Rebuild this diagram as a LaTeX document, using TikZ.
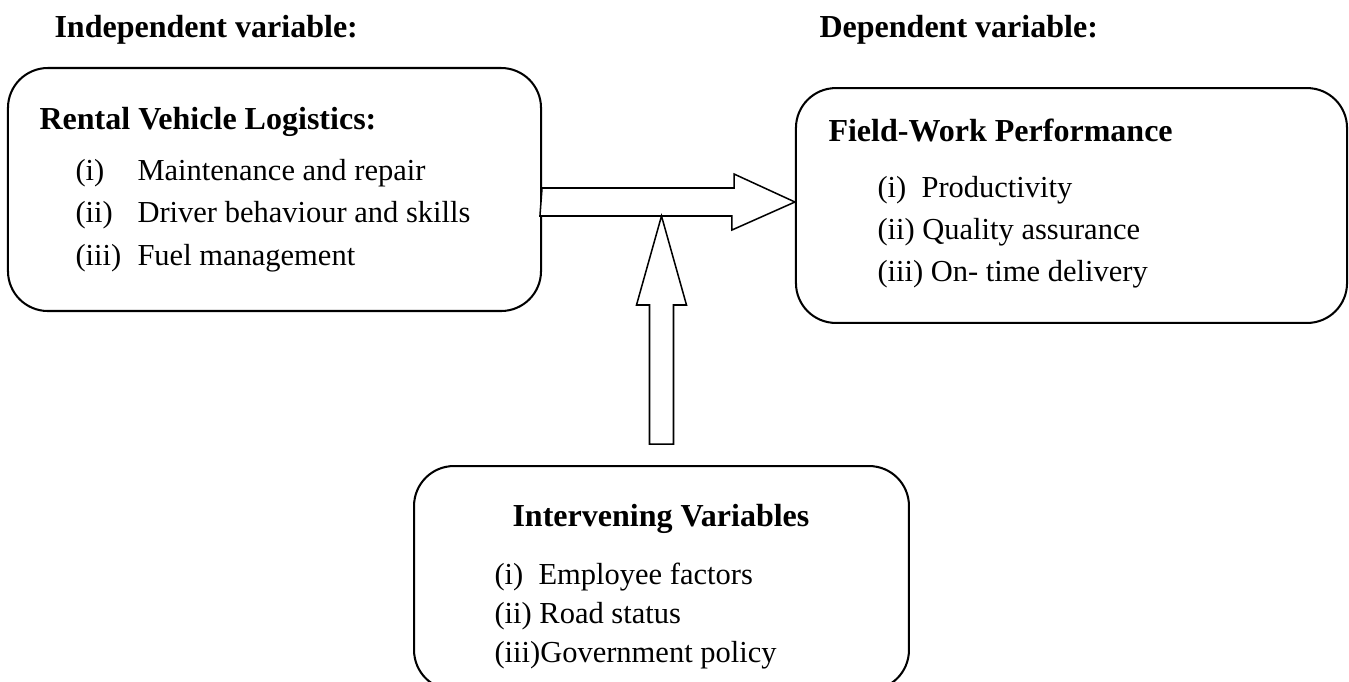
\documentclass[tikz,border=0pt]{standalone}
\usepackage{fontspec}
\setmainfont{Liberation Serif}
\usetikzlibrary{calc}
\tikzset{varbox/.style = {shape=rectangle, draw, rounded corners=15.7pt, line width=0.8pt, inner sep=0pt}}
\tikzset{item/.style = {anchor=base west, inner sep=0pt, font=\fontsize{12}{14}\selectfont}}
\tikzset{title/.style = {item, font=\fontsize{12.6}{14}\selectfont\bfseries}}
\tikzset{blockarrow/.style = {draw, fill=white, line width=0.6pt, line join=miter}}

\begin{document}
\begin{tikzpicture}[x=0.3934pt, y=-0.3934pt]
                    \useasboundingbox (0,0) rectangle (1349,681);

                    \node[title] (indep) at (54,37) {Independent variable:};
                    \node[title] (dep) at (819,37) {Dependent variable:};

                    \node[varbox, minimum width=209.7pt, minimum height=95.6pt] (rvl) at (274.5,189.5) {};
                    \node[varbox, minimum width=216.8pt, minimum height=92.4pt] (fwp) at (1071.5,205.5) {};
                    \node[varbox, minimum width=194.7pt, minimum height=88.1pt] (iv) at (661.5,578) {};

                    \node[title] (rvlt) at (39,129) {Rental Vehicle Logistics:};
                    \foreach \lab/\txt [count=\k] in {(i)/Maintenance and repair,(ii)/Driver behaviour and skills,(iii)/Fuel management} {
                      \node[item] (rvl\k) at (75,{137.5+42.5*\k}) {\makebox[24.4pt][l]{\lab}\txt};
                    }

                    \node[title] (fwpt) at (828,141) {Field-Work Performance};
                    \foreach \txt [count=\k] in {(i)~~Productivity,(ii) Quality assurance,(iii) On- time delivery} {
                      \node[item] (fwp\k) at (877,{155+42*\k}) {\txt};
                    }

                    \node[title] (ivt) at (512,526) {Intervening Variables};
                    \foreach \txt [count=\k] in {(i)~~Employee factors,(ii) Road status,(iii)Government policy} {
                      \node[item] (iv\k) at (494,{545+39*\k}) {\txt};
                    }

                    \coordinate (htip) at (fwp.west |- 0,202);
                    \coordinate (vtip) at (iv.north |- 0,216);
                    \draw[blockarrow] (rvl.east |- htip) ++(0,-14) -- ++(192,0) -- ++(0,-14) -- (htip)
                      -- ++(-63,28) -- ++(0,-14) -- ++(-192,0) -- cycle;
                    \draw[blockarrow] (vtip) -- ++(25,89) -- ++(-13,0) -- ++(0,139) -- ++(-24,0)
                      -- ++(0,-139) -- ++(-13,0) -- cycle;
                  \end{tikzpicture}
\end{document}
